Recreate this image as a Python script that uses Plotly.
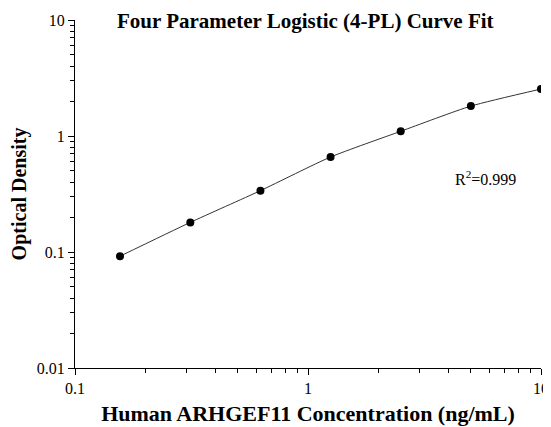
import plotly.graph_objects as go

conc = [0.156, 0.3125, 0.625, 1.25, 2.5, 5, 10]
od = [0.092, 0.180, 0.338, 0.659, 1.098, 1.81, 2.54]

x_major = [0.1, 1, 10]
x_major_text = ["0.1", "1", "10"]
y_major = [0.01, 0.1, 1, 10]
y_major_text = ["0.01", "0.1", "1", "10"]
x_minor = [m * d for d in (0.1, 1) for m in range(2, 10)]
y_minor = [m * d for d in (0.01, 0.1, 1) for m in range(2, 10)]

fig = go.Figure()
fig.add_trace(go.Scatter(
    x=conc, y=od, mode="lines",
    line=dict(color="#333333", width=1, shape="spline", smoothing=0.6),
    showlegend=False, hoverinfo="skip"))
fig.add_trace(go.Scatter(
    x=conc, y=od, mode="markers",
    marker=dict(color="black", size=8),
    showlegend=False))
# invisible trace to carry the minor-tick overlay axes
fig.add_trace(go.Scatter(
    x=conc, y=od, mode="markers", xaxis="x2", yaxis="y2",
    marker=dict(opacity=0), showlegend=False, hoverinfo="skip"))

font_family = "Liberation Serif, Times New Roman, serif"

minor_style = dict(type="log", automargin=False, tickmode="array",
                   ticks="outside", ticklen=4, tickwidth=1, tickcolor="black",
                   showline=False, showgrid=False, zeroline=False,
                   showticklabels=False)

# page body has an 8px margin, so the figure is sized/margined to land the
# plot area where the reference has it
fig.update_layout(
    width=545, height=419,
    margin=dict(l=67, r=12, t=12, b=59),
    paper_bgcolor="white", plot_bgcolor="white",
    font=dict(family=font_family, color="black", size=16),
    xaxis=dict(
        type="log", range=[-1, 1], automargin=False,
        tickmode="array", tickvals=x_major, ticktext=x_major_text,
        ticks="outside", ticklen=6, tickwidth=1, tickcolor="black",
        showline=True, linecolor="black", linewidth=1,
        showgrid=False, zeroline=False,
        tickfont=dict(size=16, family=font_family),
        title=dict(text="<b>Human ARHGEF11 Concentration (ng/mL)</b>",
                   font=dict(size=22, family=font_family), standoff=9),
    ),
    yaxis=dict(
        type="log", range=[-2, 1], automargin=False,
        tickmode="array", tickvals=y_major, ticktext=y_major_text,
        ticks="outside", ticklen=6, tickwidth=1, tickcolor="black",
        showline=True, linecolor="black", linewidth=1,
        showgrid=False, zeroline=False,
        tickfont=dict(size=16, family=font_family),
        title=dict(text="<b>Optical Density</b>",
                   font=dict(size=20, family=font_family), standoff=4),
    ),
    xaxis2=dict(overlaying="x", side="bottom", anchor="y2", range=[-1, 1],
                tickvals=x_minor, **minor_style),
    yaxis2=dict(overlaying="y", side="left", anchor="x2", range=[-2, 1],
                tickvals=y_minor, **minor_style),
    annotations=[
        dict(text="<b>Four Parameter Logistic (4-PL) Curve Fit</b>",
             xref="paper", yref="paper", x=0.4936, y=0.997,
             xanchor="center", yanchor="middle", showarrow=False,
             font=dict(size=21, family=font_family)),
        dict(text="R<sup>2</sup>=0.999",
             xref="paper", yref="paper", x=0.88, y=0.546,
             xanchor="center", yanchor="middle", showarrow=False,
             font=dict(size=16, family=font_family)),
    ],
)

fig.write_html("out.html")
